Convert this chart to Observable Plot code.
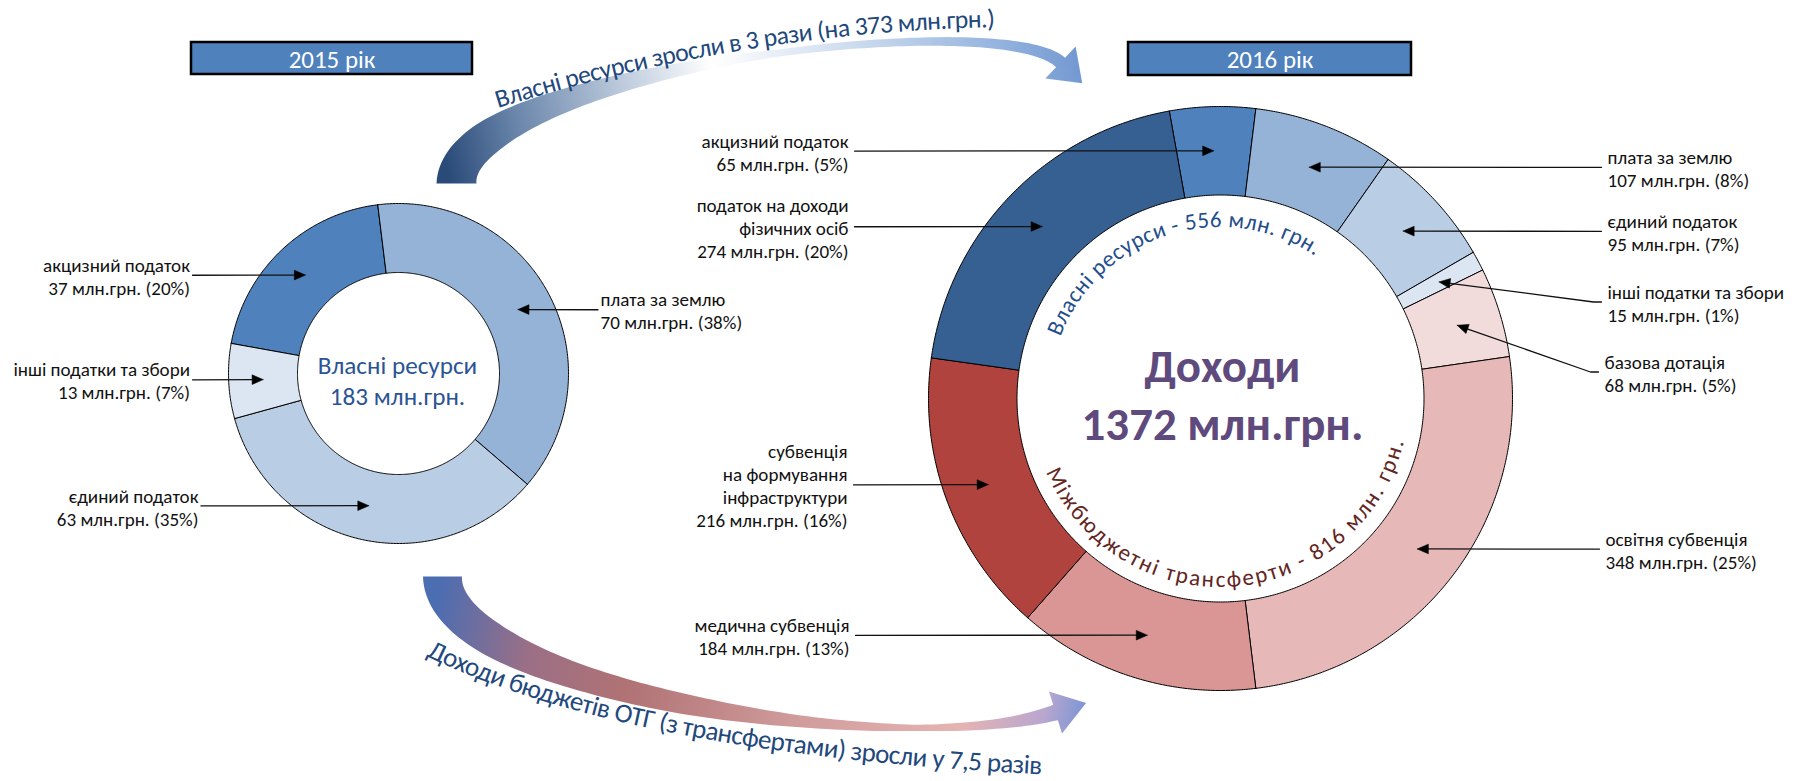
<!DOCTYPE html>
<html><head><meta charset="utf-8">
<script src="https://cdn.jsdelivr.net/npm/d3@7"></script>
<script src="https://cdn.jsdelivr.net/npm/@observablehq/plot@0.6"></script>
<style>html,body{margin:0;padding:0;background:#fff}svg{display:block}</style>
</head><body><div id="chart"></div>
<script>
// ---------------- DATA ----------------
const year2015 = "2015 рік";
const year2016 = "2016 рік";
const categories2015 = ["акцизний податок", "плата за землю", "єдиний податок", "інші податки та збори"];
const values2015 = [37, 70, 63, 13];
const shares2015 = [20, 38, 35, 7];
const categories2016 = ["акцизний податок", "плата за землю", "єдиний податок", "інші податки та збори",
  "базова дотація", "освітня субвенція", "медична субвенція",
  "субвенція\nна формування\nінфраструктури", "податок на доходи\nфізичних осіб"];
const values2016 = [65, 107, 95, 15, 68, 348, 184, 216, 274];
const shares2016 = [5, 8, 7, 1, 5, 25, 13, 16, 20];
const ownResource2016 = [true, true, true, true, false, false, false, false, true];
const unitLabel = "млн.грн.";
const ownTitle = "Власні ресурси";
const incomeTitle = "Доходи";
const transfersTitle = "Міжбюджетні трансферти";
const growthOwnText = "Власні ресурси зросли в 3 рази (на 373 млн.грн.)";
const growthTotalText = "Доходи бюджетів ОТГ (з трансфертами) зросли у 7,5 разів";

// ---------------- STYLE / LAYOUT ----------------
const W = 1796, H = 781;
const FONT = "Carlito, Lato, 'Open Sans', 'Noto Sans', sans-serif";
const colors2015 = ["#4f81bd", "#95b3d7", "#b9cde5", "#dce6f2"];
const colors2016 = ["#4f81bd", "#95b3d7", "#b9cde5", "#dce6f2", "#f2dcdb", "#e6b9b8", "#d99694", "#b1433f", "#376092"];
const ring2015 = {id: "a", cx: 398, cy: 373, r0: 101, r1: 170, start: -79.8};
const ring2016 = {id: "b", cx: 1220, cy: 398, r0: 203.5, r1: 292, start: -10.1};
const labelPos2015 = [{side: "left", x: 189.5}, {side: "right", x: 600}, {side: "left", x: 198}, {side: "left", x: 189.5}];
const labelPos2016 = [{side: "left", x: 848}, {side: "right", x: 1607}, {side: "right", x: 1607},
  {side: "right", x: 1607, y: 302.3, elbow: true}, {side: "right", x: 1604, y: 372.3, elbow: true},
  {side: "right", x: 1605}, {side: "left", x: 849}, {side: "left", x: 847}, {side: "left", x: 848}];
const boxes = [{x1: 191, x2: 472, y1: 42, y2: 74, label: year2015}, {x1: 1128, x2: 1411, y1: 42, y2: 75, label: year2016}];

const ctx = document.createElement("canvas").getContext("2d");
function textW(s, size, weight = "normal") { ctx.font = `${weight} ${size}px ${FONT}`; return ctx.measureText(s).width; }
function fit(s, target, weight = "normal") { return 100 * target / textW(s, 100, weight); }

const labelSize = fit("інші податки та збори", 176.7);
const boxSize = fit(year2015, 86.7);
const smallCenterSize = fit(ownTitle, 159.5);
const bigCenterSize = (fit(incomeTitle, 157, "bold") + fit("1372 млн.грн.", 280, "bold")) / 2;

function polar(g, r, a) { const t = a * Math.PI / 180; return {x: g.cx + r * Math.sin(t), y: g.cy - r * Math.cos(t)}; }

function ring(values, colors, g) {
  const total = d3.sum(values);
  const ang = d3.scaleLinear([0, total], [g.start, g.start + 360]);
  const cum = d3.cumsum(values);
  const polys = [], tips = [];
  values.forEach((v, i) => {
    const a0 = ang(cum[i] - v), a1 = ang(cum[i]);
    const n = Math.max(2, Math.ceil((a1 - a0) / 0.5));
    const pts = [];
    for (let k = 0; k <= n; k++) pts.push(polar(g, g.r1, a0 + (a1 - a0) * k / n));
    for (let k = n; k >= 0; k--) pts.push(polar(g, g.r0, a0 + (a1 - a0) * k / n));
    pts.push(pts[0]);
    pts.forEach(p => polys.push({x: p.x, y: p.y, id: g.id + i, color: colors[i]}));
    tips.push(polar(g, (g.r0 + g.r1) / 2, (a0 + a1) / 2));
  });
  return {polys, tips};
}

const d15 = ring(values2015, colors2015, ring2015);
const d16 = ring(values2016, colors2016, ring2016);

const labels = [], leaderPts = [], headPts = [];
function addLabels(cats, vals, shares, tips, pos, gap, key) {
  cats.forEach((c, i) => {
    const p = pos[i], tip = tips[i];
    const ly = p.y ?? tip.y + 1;
    labels.push({x: p.x, y: ly, side: p.side, text: `${c}\n${vals[i]} ${unitLabel} (${shares[i]}%)`});
    const sx = p.side === "left" ? p.x + gap : p.x - gap;
    const pts = [{x: sx, y: ly - 0.8}];
    if (p.elbow) pts.push({x: sx - 8, y: ly - 0.8});
    const prev = pts[pts.length - 1];
    const dx = tip.x - prev.x, dy = tip.y - prev.y, len = Math.hypot(dx, dy);
    const ux = dx / len, uy = dy / len, HL = 11, HW = 4.8;
    pts.push({x: tip.x - ux * (HL - 2), y: tip.y - uy * (HL - 2)});
    pts.forEach(q => leaderPts.push({...q, id: key + i}));
    const bx = tip.x - ux * HL, by = tip.y - uy * HL;
    [tip, {x: bx - uy * HW, y: by + ux * HW}, {x: bx + uy * HW, y: by - ux * HW}, tip]
      .forEach(q => headPts.push({x: q.x, y: q.y, id: key + i}));
  });
}
addLabels(categories2015, values2015, shares2015, d15.tips, labelPos2015, 2.5, "a");
addLabels(categories2016, values2016, shares2016, d16.tips, labelPos2016, 6, "b");

// curved band arrows (decorative)
function band(spec) {
  const P = spec.P;
  const B = t => { const u = 1 - t; return [0, 1].map(j => u*u*u*P[0][j] + 3*u*u*t*P[1][j] + 3*u*t*t*P[2][j] + t*t*t*P[3][j]); };
  const D = t => { const u = 1 - t; return [0, 1].map(j => 3*u*u*(P[1][j]-P[0][j]) + 6*u*t*(P[2][j]-P[1][j]) + 3*t*t*(P[3][j]-P[2][j])); };
  const wf = d3.scaleLinear(spec.t, spec.w);
  const L = [], R = [];
  const N = 120;
  for (let k = 0; k <= N; k++) {
    const t = k / N, c = B(t), d = D(t), l = Math.hypot(d[0], d[1]);
    const nx = -d[1] / l, ny = d[0] / l, w = wf(t) / 2;
    L.push({x: c[0] + nx * w, y: c[1] + ny * w});
    R.push({x: c[0] - nx * w, y: c[1] - ny * w});
  }
  const c = B(1), d = D(1), l = Math.hypot(d[0], d[1]);
  const ux = d[0] / l, uy = d[1] / l, nx = -uy, ny = ux;
  const pts = [...L,
    {x: c[0] + nx * spec.hw, y: c[1] + ny * spec.hw},
    {x: c[0] + ux * spec.hl, y: c[1] + uy * spec.hl},
    {x: c[0] - nx * spec.hw, y: c[1] - ny * spec.hw},
    ...R.reverse()];
  pts.push(pts[0]);
  return pts;
}
const topBand = band({P: [[456, 183], [456, 70], [1000, 5], [1060, 62]],
  t: [0, 0.15, 0.3, 0.45, 0.55, 0.7, 0.85, 1], w: [40, 34, 22, 12, 7, 8, 10, 13], hl: 30, hw: 22});
const bottomBand = band({P: [[442, 576], [442, 690], [900, 760], [1055, 712]],
  t: [0, 0.2, 0.35, 0.5, 0.65, 0.78, 0.9, 1], w: [39, 34, 26, 20, 11, 6, 10, 16], hl: 32, hw: 22});

const total2015 = d3.sum(values2015);
const total2016 = d3.sum(values2016);
const own2016 = d3.sum(values2016.filter((v, i) => ownResource2016[i]));
const transfers2016 = total2016 - own2016;

const lh = 23;
const textOpts = {fontFamily: FONT, fontSize: labelSize, lineHeight: lh / labelSize, lineAnchor: "middle", fill: "#111"};

const chart = Plot.plot({
  width: W, height: H, margin: 0,
  x: {domain: [0, W], range: [0, W]},
  y: {domain: [0, H], range: [0, H]},
  color: {type: "identity"},
  axis: null,
  style: {fontFamily: FONT, background: "#fff"},
  marks: [
    Plot.line(topBand, {x: "x", y: "y", fill: "url(#gradTop)", stroke: "none", curve: "linear"}),
    Plot.line(bottomBand, {x: "x", y: "y", fill: "url(#gradBottom)", stroke: "none", curve: "linear"}),
    Plot.line(d15.polys, {x: "x", y: "y", z: "id", fill: "color", stroke: "#000", strokeWidth: 1, curve: "linear"}),
    Plot.line(d16.polys, {x: "x", y: "y", z: "id", fill: "color", stroke: "#000", strokeWidth: 1, curve: "linear"}),
    Plot.rect(boxes, {x1: "x1", x2: "x2", y1: "y1", y2: "y2", fill: "#4f81bd", stroke: "#000", strokeWidth: 2.5}),
    Plot.text(boxes, {x: d => (d.x1 + d.x2) / 2, y: d => (d.y1 + d.y2) / 2 + 1, text: "label", fill: "#fff", fontSize: boxSize, fontFamily: FONT}),
    Plot.line(leaderPts, {x: "x", y: "y", z: "id", stroke: "#111", strokeWidth: 1.3, curve: "linear"}),
    Plot.line(headPts, {x: "x", y: "y", z: "id", fill: "#000", stroke: "#000", strokeWidth: 0.6, curve: "linear"}),
    Plot.text(labels.filter(d => d.side === "left"), {x: "x", y: "y", text: "text", textAnchor: "end", ...textOpts}),
    Plot.text(labels.filter(d => d.side === "right"), {x: "x", y: "y", text: "text", textAnchor: "start", ...textOpts}),
    Plot.text([`${ownTitle}\n${total2015} ${unitLabel}`], {x: () => 397, y: () => 379.5, text: d => d, fontSize: smallCenterSize,
      fontFamily: FONT, lineHeight: 31 / smallCenterSize, lineAnchor: "middle", fill: "#2b5494"}),
    Plot.text([`${incomeTitle}\n${total2016} ${unitLabel}`], {x: () => 1222, y: () => 392, text: d => d, fontSize: bigCenterSize,
      fontFamily: FONT, fontWeight: "bold", lineHeight: 58 / bigCenterSize, lineAnchor: "middle", fill: "#5f4a7e"})
  ]
});
document.getElementById("chart").appendChild(chart);

// ---- gradients and curved texts ----
const svg = d3.select(chart);
const defs = svg.insert("defs", ":first-child");
function gradient(id, x1, y1, x2, y2, stops) {
  const g = defs.append("linearGradient").attr("id", id).attr("gradientUnits", "userSpaceOnUse")
    .attr("x1", x1).attr("y1", y1).attr("x2", x2).attr("y2", y2);
  stops.forEach(([o, c]) => g.append("stop").attr("offset", o).attr("stop-color", c));
}
gradient("gradTop", 450, 185, 1090, 40, [[0, "#2a4a78"], [0.12, "#6a86ab"], [0.3, "#c2cfdf"], [0.43, "#ffffff"], [0.62, "#d3e0f0"], [0.85, "#98b6df"], [1, "#6c93cf"]]);
gradient("gradBottom", 440, 576, 1100, 700, [[0, "#4b6db2"], [0.15, "#9b6f86"], [0.3, "#b07274"], [0.55, "#cf9a9a"], [0.8, "#e6b3b3"], [0.92, "#b9a7cf"], [1, "#6a8fd6"]]);

function arcD(g, r, a0, a1) {
  const p0 = polar(g, r, a0), p1 = polar(g, r, a1);
  const large = Math.abs(a1 - a0) > 180 ? 1 : 0, sweep = a1 > a0 ? 1 : 0;
  return `M${p0.x},${p0.y}A${r},${r} 0 ${large} ${sweep} ${p1.x},${p1.y}`;
}
let pathCount = 0;
function curvedText(d, text, color, size, spacing) {
  const id = "tp" + (pathCount++);
  defs.append("path").attr("id", id).attr("d", d);
  svg.append("text").attr("font-family", FONT).attr("font-size", size).attr("fill", color)
    .attr("text-anchor", "start").attr("letter-spacing", spacing || 0)
    .append("textPath").attr("href", "#" + id).attr("startOffset", 0).text(text);
}
function pathLen(d) { const p = svg.append("path").attr("d", d); const l = p.node().getTotalLength(); p.remove(); return l; }
function spacingFor(text, size, target) { return (target - textW(text, size)) / (text.length - 1); }

// inner arc texts of the big ring
const ownText = `${ownTitle} - ${own2016} млн. грн.`;
const topA0 = -69, topA1 = 33.6, topR = 171;
const innerSize = 23;
curvedText(arcD(ring2016, topR, topA0, topA1 + 6), ownText, "#1f4e8c", innerSize,
  spacingFor(ownText, innerSize, topR * (topA1 - topA0) * Math.PI / 180));
const trText = `${transfersTitle} - ${transfers2016} млн. грн.`;
const botA0 = 247, botA1 = 103.5, botR = 189;
curvedText(arcD(ring2016, botR, botA0, botA1 - 6), trText, "#632523", innerSize,
  spacingFor(trText, innerSize, botR * (botA0 - botA1) * Math.PI / 180));

// texts along the growth arrows (paths extended a little past the text end)
const dTop = "M498,108 Q748.5,30.5 1005,27";
const lenTop = pathLen(dTop) * 0.98, sizeTop = fit(growthOwnText, lenTop) * 1.05;
curvedText(dTop + " L1060,26.3", growthOwnText, "#1f497d", sizeTop, spacingFor(growthOwnText, sizeTop, lenTop));
const dBottom = "M426,656 C600,740 854,765 1054,775";
const lenBot = pathLen(dBottom) * 0.98, sizeBot = fit(growthTotalText, lenBot) * 1.05;
curvedText(dBottom + " L1110,777.8", growthTotalText, "#1f497d", sizeBot, spacingFor(growthTotalText, sizeBot, lenBot));
</script>
</body></html>
